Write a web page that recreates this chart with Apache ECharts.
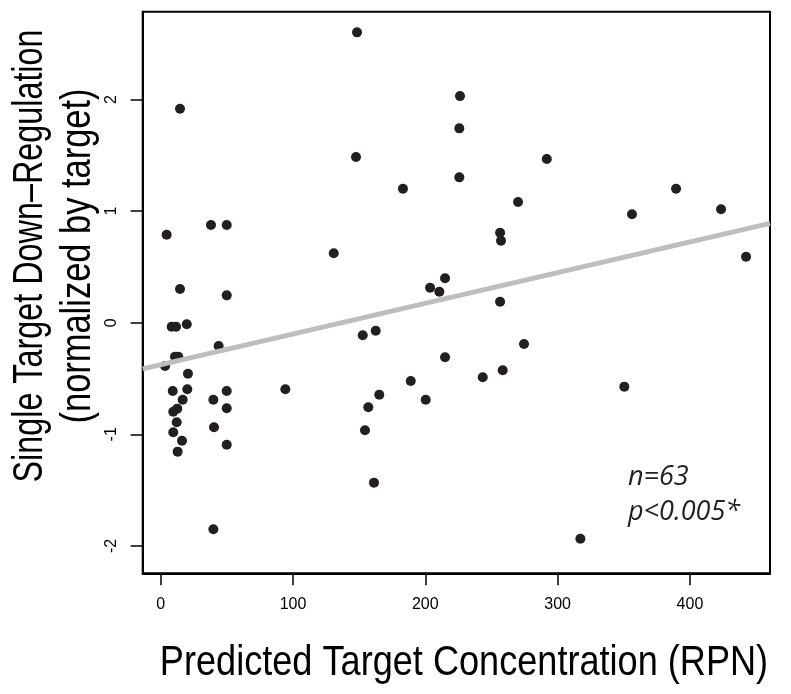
<!DOCTYPE html>
<html>
<head>
<meta charset="utf-8">
<title>Single target down-regulation vs predicted concentration</title>
<script src="https://cdn.jsdelivr.net/npm/echarts@6/dist/echarts.min.js"></script>
<style>
  html, body { margin: 0; padding: 0; background: #fff; }
  #chart { width: 791px; height: 694px; }
</style>
</head>
<body>
<div id="chart"></div>
<script>
// Predicted target concentration (RPN) for each target
const concentration = [
  148.4, 14.6, 226.2, 225.7, 147.6, 183.1, 225.7, 38.0, 49.9, 4.5,
  130.8, 14.6, 49.9, 214.9, 203.6, 210.6, 291.8, 270.1, 256.5, 257.2,
  356.2, 389.5, 423.5, 442.4, 8.3, 11.6, 19.7, 43.8, 10.8, 13.3,
  3.3, 20.6, 9.1, 20.1, 16.6, 9.5, 12.5, 12.1, 9.5, 16.1,
  12.8, 39.8, 49.9, 49.9, 40.3, 49.9, 39.8, 94.2, 152.7, 162.5,
  214.9, 156.9, 165.2, 154.4, 189.0, 200.3, 161.2, 256.5, 274.6, 243.4,
  258.5, 350.4, 317.2
];

// Single target down-regulation, normalized by target
const downRegulation = [
  2.601, 1.917, 2.030, 1.741, 1.484, 1.200, 1.302, 0.875, 0.875, 0.788,
  0.622, 0.302, 0.245, 0.398, 0.313, 0.278, 1.466, 1.081, 0.806, 0.734,
  0.971, 1.200, 1.016, 0.591, -0.036, -0.036, -0.014, -0.209, -0.305, -0.305,
  -0.388, -0.457, -0.612, -0.597, -0.690, -0.797, -0.770, -0.892, -0.982, -1.057,
  -1.155, -0.690, -0.612, -0.767, -0.937, -1.093, -1.850, -0.597, -0.113, -0.072,
  -0.310, -0.758, -0.645, -0.964, -0.522, -0.690, -1.433, 0.188, -0.191, -0.489,
  -0.426, -0.573, -1.935
];

const xTicks = [0, 100, 200, 300, 400];
const yTicks = [-2, -1, 0, 1, 2];

const xTitle = 'Predicted Target Concentration (RPN)';
const yTitleLines = ['Single Target Down\u2013Regulation', '(normalized by target)'];
const statsLines = ['n=63', 'p<0.005*'];

// Plot ranges padded around the data
const xRange = [-13.6, 460.5];
const yRange = [-2.245, 2.786];

// Ordinary least-squares fit
function leastSquares(xs, ys) {
  const n = xs.length;
  const mx = xs.reduce((a, b) => a + b, 0) / n;
  const my = ys.reduce((a, b) => a + b, 0) / n;
  let sxy = 0, sxx = 0;
  for (let i = 0; i < n; i++) {
    sxy += (xs[i] - mx) * (ys[i] - my);
    sxx += (xs[i] - mx) * (xs[i] - mx);
  }
  const slope = sxy / sxx;
  return { slope, intercept: my - slope * mx };
}

const fit = leastSquares(concentration, downRegulation);
const fitLine = xRange.map(x => [x, fit.intercept + fit.slope * x]);
const points = concentration.map((x, i) => [x, downRegulation[i]]);

const chart = echarts.init(document.getElementById('chart'), null, { renderer: 'canvas' });

const sansFont = 'Liberation Sans, Arial, sans-serif';
const tickStyle = { color: '#000', width: 1.5 };
const labelFont = { fontFamily: sansFont, fontSize: 16, color: '#000' };

chart.setOption({
  animation: false,
  backgroundColor: '#fff',
  grid: {
    left: 142.7, right: 21, top: 11.7, bottom: 120.7,
    show: true, borderColor: '#000', borderWidth: 2, backgroundColor: 'transparent'
  },
  xAxis: {
    type: 'value',
    min: xRange[0], max: xRange[1],
    splitLine: { show: false },
    axisLine: { show: true, onZero: false, lineStyle: { color: '#000', width: 2 } },
    axisTick: { show: true, inside: false, length: 12, customValues: xTicks, lineStyle: tickStyle },
    axisLabel: Object.assign({ customValues: xTicks, margin: 23 }, labelFont)
  },
  yAxis: {
    type: 'value',
    min: yRange[0], max: yRange[1],
    splitLine: { show: false },
    axisLine: { show: true, onZero: false, lineStyle: { color: '#000', width: 2 } },
    axisTick: { show: true, inside: false, length: 12, customValues: yTicks, lineStyle: tickStyle },
    axisLabel: Object.assign({ customValues: yTicks, margin: 23, rotate: 90 }, labelFont)
  },
  series: [
    {
      type: 'scatter',
      data: points,
      symbol: 'circle',
      symbolSize: 10,
      itemStyle: { color: '#231f20', opacity: 1 },
      z: 2
    },
    {
      type: 'line',
      data: fitLine,
      symbol: 'none',
      lineStyle: { color: '#bebebe', width: 5 },
      clip: true,
      z: 3
    }
  ],
  graphic: [
    {
      type: 'text',
      x: 464, y: 663,
      scaleX: 0.86,
      style: {
        text: xTitle, fontFamily: sansFont, fontSize: 42,
        fill: '#000', align: 'center', verticalAlign: 'middle'
      }
    },
    {
      type: 'text',
      x: 30, y: 256,
      rotation: Math.PI / 2,
      scaleX: 0.77,
      style: {
        text: yTitleLines[0], fontFamily: sansFont, fontSize: 42,
        fill: '#000', align: 'center', verticalAlign: 'middle'
      }
    },
    {
      type: 'text',
      x: 78, y: 256,
      rotation: Math.PI / 2,
      scaleX: 0.82,
      style: {
        text: yTitleLines[1], fontFamily: sansFont, fontSize: 42,
        fill: '#000', align: 'center', verticalAlign: 'middle'
      }
    },
    {
      type: 'text',
      x: 628, y: 477,
      style: {
        text: statsLines[0], fontFamily: 'Open Sans, sans-serif', fontStyle: 'italic', fontSize: 27,
        fill: '#231f20', align: 'left', verticalAlign: 'middle'
      }
    },
    {
      type: 'text',
      x: 628, y: 512,
      style: {
        text: statsLines[1], fontFamily: 'Open Sans, sans-serif', fontStyle: 'italic', fontSize: 27,
        fill: '#231f20', align: 'left', verticalAlign: 'middle'
      }
    }
  ]
});
</script>
</body>
</html>
